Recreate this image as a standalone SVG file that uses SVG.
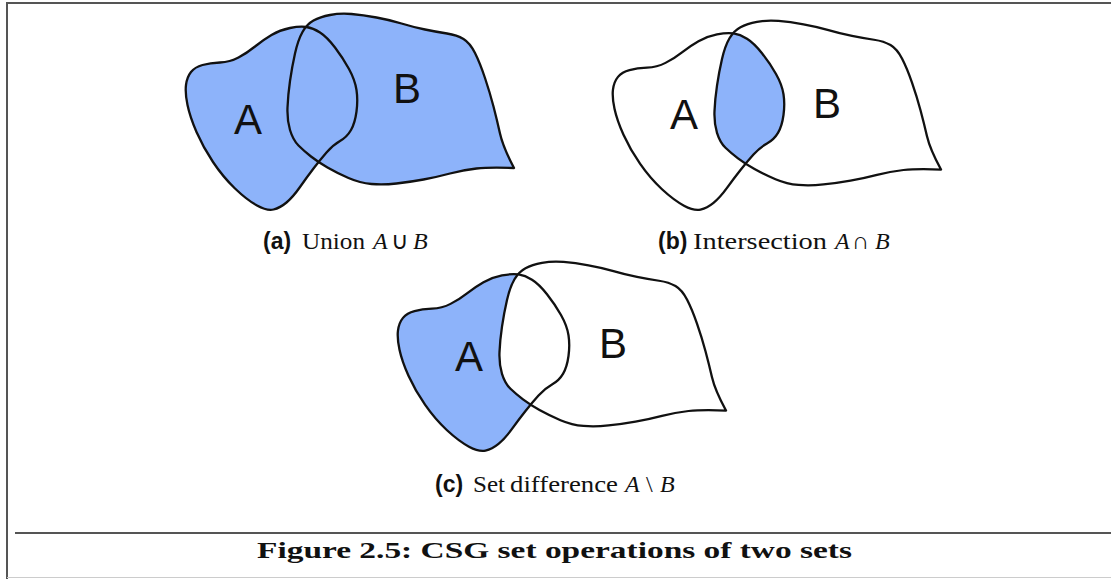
<svg xmlns="http://www.w3.org/2000/svg" xmlns:xlink="http://www.w3.org/1999/xlink" width="1111" height="579" viewBox="0 0 1111 579">
<style>
.frame{stroke:#555;stroke-width:2;fill:none}
.out{fill:none;stroke:#111;stroke-width:2.3;stroke-linejoin:round;vector-effect:non-scaling-stroke}
.blue{fill:#8db3fa;stroke:none}
.white{fill:#fff;stroke:none}
.lbl{font-family:"Liberation Sans",Arial,sans-serif;font-size:42px;fill:#111;text-anchor:middle}
.cap{font-family:"Liberation Serif","Times New Roman",serif;font-size:24px;fill:#111}
.sb{font-family:"Liberation Sans",Arial,sans-serif;font-weight:bold;font-size:23px}
.it{font-style:italic}
.fig{font-family:"Liberation Serif","Times New Roman",serif;font-weight:bold;font-size:23px;fill:#111}
</style>
<defs>
<path id="shapeA" d="M290,28 Q280,30 271.5,35 Q263,40 255,46.5 Q247,53 238.5,57.5 Q230,62 220,62.5 Q210,63 202.5,65 Q195,67 191,72 Q187,77 186,85 Q185,93 187.5,105 Q190,117 196.5,132 Q203,147 213,162 Q223,177 235,188.5 Q247,200 257,205.5 Q267,211 273.5,209.5 Q280,208 286.5,202.5 Q293,197 300,187 Q307,177 313.5,168.5 Q320,160 326.5,152.5 Q333,145 340,141 Q347,137 351,130 Q355,123 356.5,111.5 Q358,100 356.5,90 Q355,80 349,69 Q343,58 335,47.5 Q327,37 320,32.5 Q313,28 306.5,27 Q300,26 290,28 Z"/>
<path id="shapeB" d="M514,168 Q490,167 476.5,168.5 Q463,170 450,173.5 Q437,177 423.5,179.5 Q410,182 396.5,183.5 Q383,185 371.5,184 Q360,183 348.5,178 Q337,173 327.5,167.5 Q318,162 311,156.5 Q304,151 298.5,145.5 Q293,140 290,130 Q287,120 287.5,107.5 Q288,95 290,81 Q292,67 295,53.5 Q298,40 302.5,32 Q307,24 313.5,20.5 Q320,17 330,15 Q340,13 351.5,14 Q363,15 376.5,17.5 Q390,20 401.5,23.5 Q413,27 425,29.5 Q437,32 447,33.5 Q457,35 463.5,39 Q470,43 475,53 Q480,63 485,78 Q490,93 493.5,106.5 Q497,120 500,133.5 Q503,147 514,168 Z"/>
<clipPath id="clipA"><use xlink:href="#shapeA"/></clipPath>
</defs>

<g id="frame">
<line class="frame" x1="7" y1="3" x2="1111" y2="3"/>
<line class="frame" x1="7" y1="2" x2="7" y2="579"/>
<line class="frame" x1="15" y1="533" x2="1111" y2="533"/>
<line x1="7" y1="577.5" x2="1111" y2="577.5" stroke="#ccc" stroke-width="1"/>
</g>

<g id="union">
<use xlink:href="#shapeA" class="blue"/>
<use xlink:href="#shapeB" class="blue"/>
<use xlink:href="#shapeA" class="out"/>
<use xlink:href="#shapeB" class="out"/>
<text class="lbl" x="248" y="134">A</text>
<text class="lbl" x="407" y="103">B</text>
<text class="cap" x="263" y="249"><tspan class="sb">(a)</tspan><tspan x="302" textLength="63" lengthAdjust="spacingAndGlyphs">Union</tspan><tspan class="it" x="373">A</tspan><tspan x="391">∪</tspan><tspan class="it" x="413">B</tspan></text>
</g>

<g id="intersection">
<g transform="translate(427,7.4) scale(1,0.965)">
<use xlink:href="#shapeB" class="blue" clip-path="url(#clipA)"/>
<use xlink:href="#shapeA" class="out"/>
<use xlink:href="#shapeB" class="out"/>
</g>
<text class="lbl" x="684" y="129">A</text>
<text class="lbl" x="827" y="118">B</text>
<text class="cap" x="658" y="249"><tspan class="sb">(b)</tspan><tspan x="693" textLength="134" lengthAdjust="spacingAndGlyphs">Intersection</tspan><tspan class="it" x="835">A</tspan><tspan x="852">∩</tspan><tspan class="it" x="875">B</tspan></text>
</g>

<g id="difference">
<g transform="translate(212,248.4) scale(1,0.965)">
<use xlink:href="#shapeA" class="blue"/>
<use xlink:href="#shapeB" class="white"/>
<use xlink:href="#shapeA" class="out"/>
<use xlink:href="#shapeB" class="out"/>
</g>
<text class="lbl" x="469" y="371">A</text>
<text class="lbl" x="613" y="358">B</text>
<text class="cap" x="435" y="492"><tspan class="sb">(c)</tspan><tspan x="473" textLength="32" lengthAdjust="spacingAndGlyphs">Set</tspan><tspan x="510" textLength="108" lengthAdjust="spacingAndGlyphs">difference</tspan><tspan class="it" x="625">A</tspan><tspan x="646">\</tspan><tspan class="it" x="660">B</tspan></text>
</g>

<g id="caption">
<text class="fig" x="257" y="558" textLength="595" lengthAdjust="spacingAndGlyphs">Figure 2.5: CSG set operations of two sets</text>
</g>
</svg>
